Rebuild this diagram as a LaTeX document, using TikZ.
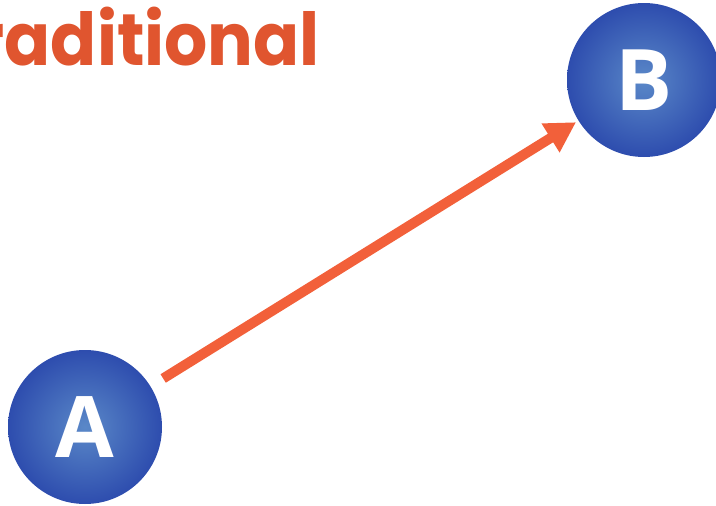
\documentclass[tikz,border=0pt]{standalone}
\usepackage{graphicx}
\usepackage{fontspec}
\newfontfamily\titlefont{Poppins}
\newfontfamily\letterfont{Open Sans}
\usetikzlibrary{arrows.meta}
\definecolor{titleorange}{HTML}{E0552F}
\definecolor{arroworange}{HTML}{F2603A}
\definecolor{ballin}{HTML}{5A88C8}
\definecolor{ballmid}{HTML}{2A48AC}
\definecolor{ballout}{HTML}{1B329C}
\pgfdeclareradialshading{blueball}{\pgfpointorigin}{color(0bp)=(ballin); color(27bp)=(ballmid); color(50bp)=(ballout)}
\tikzset{
  ball/.style={circle, minimum size=154pt, inner sep=0pt, shading=blueball,
    text=white, font=\letterfont\bfseries\fontsize{85}{85}\selectfont},
  flow/.style={line width=10pt, arroworange, -{Triangle[length=30pt,width=32pt]}}
}
\begin{document}
\begin{tikzpicture}[x=1pt,y=-1pt]
\useasboundingbox (0,0) rectangle (716,506);
\node[anchor=base east, inner sep=0pt, text=titleorange,
  font=\titlefont\bfseries\fontsize{73}{73}\selectfont] (title) at (320,65) {\scalebox{0.93}[1]{Traditional}};
\node[ball] (A) at (85,427) {A};
\node[ball] (B) at (644,80) {B};
\draw[flow, shorten <=92pt, shorten >=80pt] (A.center) -- (B.center);
\end{tikzpicture}
\end{document}
